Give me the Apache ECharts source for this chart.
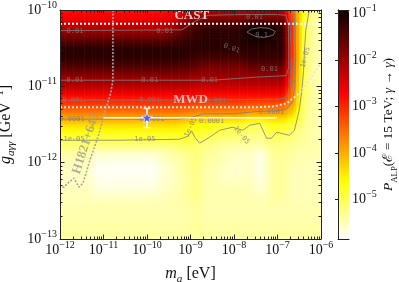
<!DOCTYPE html>
<html><head><meta charset="utf-8">
<script src="https://cdn.jsdelivr.net/npm/echarts@6/dist/echarts.min.js"></script>
<style>html,body{margin:0;padding:0;background:#fff}#c{width:399px;height:282px}</style>
</head><body><div id="c"></div>
<script>
// ---------------- data (log10 values) ----------------
// column centres: log10(m_a / eV)
const massLog = [-11.875,-11.625,-11.375,-11.125,-10.875,-10.625,-10.375,-10.125,-9.875,-9.625,-9.375,-9.125,-8.875,-8.625,-8.375,-8.125,-7.875,-7.625,-7.375,-7.125,-6.875,-6.625,-6.375,-6.125];
// sampled rows: log10(g / GeV^-1), top to bottom
const couplingLog = [-10.0,-10.125,-10.25,-10.375,-10.5,-10.625,-10.75,-10.875,-11.0,-11.125,-11.25,-11.375,-11.5,-11.625,-11.75,-11.875,-12.0,-12.125,-12.25,-12.375,-12.5,-12.625,-12.75,-12.875,-13.0];
// log10 P_ALP ; one row per couplingLog entry, one column per massLog entry
const pLog = [
[-2.85,-2.85,-2.85,-2.85,-2.85,-2.85,-2.85,-2.85,-2.85,-2.85,-2.75,-2.6,-2.4,-2.3,-2.3,-2.3,-2.3,-2.3,-2.3,-2.3,-2.3,-3.6,-4.7,-5.4],
[-2.55,-2.55,-2.55,-2.55,-2.55,-2.55,-2.55,-2.55,-2.55,-2.55,-2.4,-2.1,-1.8,-1.7,-1.7,-1.7,-1.7,-1.6,-1.6,-1.6,-1.6,-3.4,-4.9,-5.4],
[-2.1,-2.1,-2.1,-2.1,-2.1,-2.1,-2.1,-2.1,-2.1,-2.1,-1.9,-1.55,-1.3,-1.2,-1.2,-1.2,-1.2,-0.95,-0.9,-0.95,-1.2,-3.3,-5.0,-5.45],
[-1.6,-1.6,-1.6,-1.6,-1.6,-1.6,-1.6,-1.6,-1.6,-1.6,-1.45,-1.3,-1.2,-1.15,-1.15,-1.15,-1.15,-1.0,-0.95,-1.05,-1.2,-3.3,-5.0,-5.45],
[-1.15,-1.15,-1.15,-1.15,-1.15,-1.15,-1.15,-1.15,-1.15,-1.15,-1.15,-1.15,-1.15,-1.15,-1.15,-1.15,-1.15,-1.15,-1.15,-1.15,-1.15,-3.3,-5.05,-5.45],
[-1.15,-1.15,-1.15,-1.15,-1.15,-1.15,-1.15,-1.15,-1.15,-1.15,-1.15,-1.2,-1.3,-1.35,-1.35,-1.35,-1.35,-1.25,-1.25,-1.25,-1.25,-3.3,-5.05,-5.45],
[-1.45,-1.45,-1.45,-1.45,-1.45,-1.45,-1.45,-1.45,-1.45,-1.45,-1.45,-1.5,-1.6,-1.75,-1.75,-1.75,-1.75,-1.6,-1.6,-1.6,-1.6,-3.4,-5.05,-5.45],
[-1.9,-1.9,-1.9,-1.9,-1.9,-1.9,-1.9,-1.9,-1.9,-1.9,-1.9,-1.9,-2.0,-2.0,-2.0,-2.0,-2.0,-1.95,-1.95,-1.95,-1.95,-3.5,-5.1,-5.45],
[-2.2,-2.2,-2.2,-2.2,-2.2,-2.2,-2.2,-2.2,-2.2,-2.2,-2.2,-2.2,-2.3,-2.3,-2.3,-2.3,-2.3,-2.3,-2.3,-2.3,-2.3,-3.6,-5.1,-5.45],
[-2.75,-2.75,-2.75,-2.75,-2.75,-2.75,-2.75,-2.75,-2.75,-2.75,-2.75,-2.75,-2.8,-2.8,-2.8,-2.8,-2.8,-2.8,-2.8,-2.8,-2.8,-3.8,-5.15,-5.45],
[-3.2,-3.2,-3.2,-3.2,-3.2,-3.2,-3.2,-3.2,-3.2,-3.2,-3.2,-3.2,-3.3,-3.3,-3.3,-3.3,-3.3,-3.4,-3.4,-3.4,-3.4,-4.0,-5.2,-5.45],
[-3.75,-3.75,-3.75,-3.75,-3.75,-3.75,-3.75,-3.75,-3.75,-3.75,-3.75,-3.8,-3.9,-3.9,-3.9,-3.9,-3.9,-4.05,-4.05,-4.05,-4.05,-4.4,-5.25,-5.45],
[-4.3,-4.3,-4.3,-4.3,-4.3,-4.3,-4.3,-4.3,-4.3,-4.3,-4.3,-4.4,-4.6,-4.6,-4.7,-4.8,-4.8,-4.95,-5.0,-4.7,-4.75,-4.9,-5.3,-5.45],
[-4.75,-4.75,-4.75,-4.75,-4.75,-4.75,-4.75,-4.75,-4.75,-4.75,-4.75,-4.7,-4.85,-4.9,-5.0,-5.1,-5.1,-5.2,-5.25,-4.95,-5.0,-5.15,-5.35,-5.45],
[-5.1,-5.1,-5.1,-5.1,-5.1,-5.1,-5.1,-5.1,-5.1,-5.1,-5.1,-5.0,-5.1,-5.2,-5.3,-5.35,-5.35,-5.35,-5.4,-5.2,-5.25,-5.3,-5.4,-5.45],
[-5.4,-5.4,-5.4,-5.6,-5.6,-5.6,-5.6,-5.6,-5.6,-5.5,-5.4,-5.3,-5.2,-5.35,-5.4,-5.5,-5.55,-5.55,-5.7,-5.35,-5.3,-5.4,-5.45,-5.45],
[-5.5,-5.5,-5.5,-5.75,-5.75,-5.75,-5.75,-5.75,-5.75,-5.6,-5.5,-5.4,-5.2,-5.4,-5.45,-5.55,-5.6,-5.55,-5.75,-5.4,-5.35,-5.45,-5.5,-5.5],
[-5.55,-5.55,-5.55,-5.8,-5.8,-5.8,-5.8,-5.8,-5.8,-5.65,-5.55,-5.4,-5.25,-5.45,-5.5,-5.6,-5.6,-5.55,-5.75,-5.4,-5.35,-5.5,-5.5,-5.5],
[-5.55,-5.55,-5.55,-5.75,-5.75,-5.75,-5.75,-5.75,-5.75,-5.6,-5.55,-5.4,-5.25,-5.45,-5.5,-5.55,-5.55,-5.5,-5.7,-5.4,-5.35,-5.5,-5.5,-5.5],
[-5.5,-5.5,-5.5,-5.65,-5.65,-5.65,-5.65,-5.65,-5.65,-5.55,-5.5,-5.4,-5.25,-5.45,-5.45,-5.45,-5.45,-5.5,-5.6,-5.4,-5.35,-5.5,-5.5,-5.5],
[-5.5,-5.5,-5.5,-5.5,-5.5,-5.5,-5.5,-5.5,-5.5,-5.5,-5.45,-5.4,-5.3,-5.45,-5.45,-5.45,-5.45,-5.45,-5.5,-5.4,-5.4,-5.5,-5.5,-5.5],
[-5.45,-5.45,-5.45,-5.45,-5.45,-5.45,-5.45,-5.45,-5.45,-5.45,-5.45,-5.45,-5.35,-5.45,-5.45,-5.45,-5.45,-5.45,-5.45,-5.45,-5.45,-5.45,-5.45,-5.45],
[-5.45,-5.45,-5.45,-5.45,-5.45,-5.45,-5.45,-5.45,-5.45,-5.45,-5.45,-5.45,-5.35,-5.45,-5.45,-5.45,-5.45,-5.45,-5.45,-5.45,-5.45,-5.45,-5.45,-5.45],
[-5.4,-5.4,-5.4,-5.4,-5.4,-5.4,-5.4,-5.4,-5.4,-5.4,-5.4,-5.4,-5.35,-5.4,-5.4,-5.4,-5.4,-5.4,-5.4,-5.4,-5.4,-5.4,-5.4,-5.4],
[-5.4,-5.4,-5.4,-5.4,-5.4,-5.4,-5.4,-5.4,-5.4,-5.4,-5.4,-5.4,-5.4,-5.4,-5.4,-5.4,-5.4,-5.4,-5.4,-5.4,-5.4,-5.4,-5.4,-5.4]
];
// tick labels (exponents)
const massTicks = [-12,-11,-10,-9,-8,-7,-6];
const couplingTicks = [-13,-12,-11,-10];
const colorTicks = [-5,-4,-3,-2,-1];
const colorRange = [-5.85, -0.92];
// contour lines [log m, log g]
const contour01 = [[-7.70,-10.29],[-7.6,-10.25],[-7.4,-10.23],[-7.2,-10.24],[-7.05,-10.28],[-7.1,-10.33],[-7.3,-10.36],[-7.5,-10.35],[-7.70,-10.29]];
const contour001 = [[-12,-10.27],[-9.2,-10.26],[-8.9,-10.15],[-8.6,-10.07],[-7.9,-10.06],[-7.0,-10.06],[-6.8,-10.07],[-6.75,-10.2],[-6.74,-10.5],[-6.74,-10.75],[-6.8,-10.86],[-7.5,-10.88],[-8.5,-10.92],[-12,-10.92]];
const contour0001 = [[-12,-11.18],[-8.8,-11.18],[-7.0,-11.17],[-6.8,-11.15],[-6.7,-11.0],[-6.69,-10.5],[-6.72,-10.0]];
const contour00001 = [[-12,-11.43],[-9.3,-11.43],[-9.0,-11.41],[-8.7,-11.36],[-8.0,-11.36],[-7.5,-11.33],[-7.0,-11.32],[-6.8,-11.3],[-6.65,-11.2],[-6.6,-11.0],[-6.59,-10.5],[-6.62,-10.0]];
const contour1em5 = [[-12,-11.706],[-10.62,-11.706],[-9.25,-11.693],[-9.06,-11.654],[-8.97,-11.588],[-8.90,-11.667],[-8.79,-11.745],[-8.56,-11.667],[-8.33,-11.575],[-8.03,-11.536],[-7.80,-11.575],[-7.64,-11.510],[-7.41,-11.484],[-7.25,-11.680],[-7.14,-11.680],[-7.02,-11.601],[-6.73,-11.641],[-6.61,-11.575],[-6.50,-11.31],[-6.44,-11.05],[-6.40,-10.79],[-6.38,-10.53],[-6.35,-10.27],[-6.27,-10.0]];
const contourLabelText = ['0.01','0.01','0.01','0.01','0.001','0.001','0.0001','0.0001','1e-05','1e-05','0.1','0.01','0.01','0.01','0.01','0.001','0.0001','0.0001','1e-05','1e-05','0.0001','1e-05'];
const contourLabelMass = [-11.656,-9.592,-11.656,-9.936,-11.702,-9.936,-11.725,-9.890,-11.679,-10.050,-7.367,-7.528,-8.055,-8.560,-7.183,-8.422,-8.514,-7.138,-8.995,-7.826,-6.633,-6.358];
const contourLabelCoupling = [-10.281,-10.281,-10.922,-10.922,-11.183,-11.183,-11.431,-11.431,-11.693,-11.693,-10.333,-10.098,-10.503,-10.922,-10.778,-11.196,-11.458,-11.340,-11.536,-11.641,-10.791,-10.621];
const contourLabelRotate = [0,0,0,0,0,0,0,0,0,0,0,0,-20,0,0,0,0,0,65,-50,85,75];
// limits
const castLog = -10.18;
const mwdMass = [-12,-7.5,-7.069,-6.794,-6.495,-6.266,-6.0];
const mwdCoupling = [-11.275,-11.275,-11.261,-11.222,-11.092,-10.922,-10.686];
const hMass = [-10.784,-10.784,-10.830,-10.968,-11.128,-11.312,-11.472,-11.564,-11.679,-11.794,-11.908,-12];
const hCoupling = [-10.0,-10.922,-11.078,-11.340,-11.667,-11.967,-12.268,-12.320,-12.203,-12.255,-12.320,-12.320];
// best-fit point with error bars
const starMass = -10.0, starCoupling = -11.41;
const errMass = [-11.0, -7.02];
const errCoupling = [-11.29, -11.54];
// annotations
const annoText = ['CAST','MWD','H1821+643'];
const annoMass = [-8.97, -9.0, -11.404];
const annoCoupling = [-10.07, -11.18, -11.752];
const annoRotate = [0, 0, 72];

// ---------------- rendering ----------------
const P = v => Math.pow(10, v);
const E = p => Number('1e' + p);
const [vMin, vMax] = colorRange;
function hotR(v) {
  let t = (v - vMin) / (vMax - vMin); t = Math.max(0, Math.min(1, t));
  const s = 1 - t, a = 0.365079, b = 0.746032;
  const r = s < a ? 0.0416 + (1 - 0.0416) * s / a : 1;
  const g = s < a ? 0 : (s < b ? (s - a) / (b - a) : 1);
  const bl = s < b ? 0 : (s - b) / (1 - b);
  return 'rgb(' + Math.round(r * 255) + ',' + Math.round(g * 255) + ',' + Math.round(bl * 255) + ')';
}
const stops = [];
for (let k = 0; k <= 48; k++) stops.push(hotR(vMin + (vMax - vMin) * k / 48));

// cell edges: extend the first/last column to the plot borders
const colPos = [-12].concat(massLog, [-6]);
const colVal = (i, k) => pLog[i][Math.max(0, Math.min(massLog.length - 1, k - 1))];
const cells = [];
for (let i = 0; i < couplingLog.length - 1; i++)
  for (let k = 0; k < colPos.length - 1; k++)
    cells.push([k, i, (colVal(i, k) + colVal(i + 1, k)) / 2, P((colPos[k] + colPos[k + 1]) / 2), P((couplingLog[i] + couplingLog[i + 1]) / 2)]);

function renderCell(params, api) {
  const k = api.value(0), i = api.value(1);
  const tl = api.coord([P(colPos[k]), P(couplingLog[i])]);
  const br = api.coord([P(colPos[k + 1]), P(couplingLog[i + 1])]);
  const vTL = colVal(i, k), vTR = colVal(i, k + 1), vBL = colVal(i + 1, k), vBR = colVal(i + 1, k + 1);
  const W = br[0] - tl[0], H = br[1] - tl[1];
  const K = Math.max(1, Math.round(W / 2.5));
  const children = [];
  for (let s = 0; s < K; s++) {
    const f = (s + 0.5) / K;
    const top = vTL + (vTR - vTL) * f, bot = vBL + (vBR - vBL) * f;
    children.push({
      type: 'rect',
      shape: { x: tl[0] + W * s / K - 0.3, y: tl[1] - 0.3, width: W / K + 0.6, height: H + 0.6 },
      style: { fill: { type: 'linear', x: 0, y: 0, x2: 0, y2: 1, colorStops: [
        { offset: 0, color: hotR(top) }, { offset: 0.5, color: hotR((top + bot) / 2) }, { offset: 1, color: hotR(bot) }] } }
    });
  }
  return { type: 'group', children };
}

const SERIF = "'Liberation Serif', 'DejaVu Serif', serif";
const TXT = '#111';
const supFmt = e => '{b|10}{s|' + (e < 0 ? '\u2212' + (-e) : e) + '}';
const tickRich = {
  b: { fontFamily: SERIF, fontSize: 14, lineHeight: 20, color: TXT },
  s: { fontFamily: SERIF, fontSize: 10, lineHeight: 11, color: TXT, verticalAlign: 'top' }
};
const makeNameRich = fs => ({
  i: { fontFamily: SERIF, fontStyle: 'italic', fontSize: fs, lineHeight: 22, color: TXT },
  r: { fontFamily: SERIF, fontSize: fs, lineHeight: 22, color: TXT },
  sub: { fontFamily: SERIF, fontStyle: 'italic', fontSize: fs * 0.7, lineHeight: 12, color: TXT, verticalAlign: 'bottom' },
  subr: { fontFamily: SERIF, fontSize: fs * 0.65, lineHeight: 12, color: TXT, verticalAlign: 'bottom' },
  sup: { fontFamily: SERIF, fontSize: fs * 0.7, lineHeight: 12, color: TXT, verticalAlign: 'top' }
});
const minorOf = ticks => { const out = []; for (let d = 0; d < ticks.length - 1; d++) for (let k = 2; k <= 9; k++) out.push(k * E(ticks[d])); return out; };
const LINE = { color: '#222', width: 1 };

function mainAxis(type, pos, ticks, opts) {
  const minor = opts.minor;
  const vals = minor ? minorOf(ticks) : ticks.map(E);
  return Object.assign({
    type: 'log', logBase: 10, gridIndex: 0, position: pos, min: E(ticks[0]), max: E(ticks[ticks.length - 1]), z: 10,
    axisLine: { show: !minor, onZero: false, lineStyle: LINE },
    axisTick: { show: true, inside: true, length: minor ? 2.5 : 4.5, lineStyle: LINE, customValues: vals },
    axisLabel: { show: !!opts.labels, customValues: ticks.map(E), margin: opts.margin || 3,
      formatter: v => supFmt(Math.round(Math.log10(v))), rich: tickRich },
    splitLine: { show: false }, minorTick: { show: false }, minorSplitLine: { show: false }, silent: true
  }, opts.extra || {});
}

const xAxes = [
  mainAxis('x', 'bottom', massTicks, { labels: true, margin: 1, extra: {
    name: '{i|m}{sub|a}{r| [eV]}', nameLocation: 'middle', nameGap: 24, nameTextStyle: { rich: makeNameRich(16) } } }),
  mainAxis('x', 'bottom', massTicks, { minor: true }),
  mainAxis('x', 'top', massTicks, {}),
  mainAxis('x', 'top', massTicks, { minor: true }),
  { type: 'value', gridIndex: 1, position: 'bottom', min: 0, max: 1, z: 10, axisLine: { show: true, lineStyle: LINE }, axisTick: { show: false }, axisLabel: { show: false }, splitLine: { show: false } },
  { type: 'value', gridIndex: 1, position: 'top', min: 0, max: 1, z: 10, axisLine: { show: true, lineStyle: LINE }, axisTick: { show: false }, axisLabel: { show: false }, splitLine: { show: false } }
];
const yAxes = [
  mainAxis('y', 'left', couplingTicks, { labels: true, margin: 3, extra: {
    name: '{i|g}{sub|a\u03b3\u03b3}{r| [GeV}{sup|\u22121}{r|]}', nameLocation: 'middle', nameGap: 29, nameRotate: 90, nameTextStyle: { rich: makeNameRich(16) } } }),
  mainAxis('y', 'left', couplingTicks, { minor: true }),
  mainAxis('y', 'right', couplingTicks, {}),
  mainAxis('y', 'right', couplingTicks, { minor: true }),
  { type: 'value', gridIndex: 1, position: 'left', min: vMin, max: vMax, z: 10, axisLine: { show: true, lineStyle: LINE }, axisTick: { show: false }, axisLabel: { show: false }, splitLine: { show: false } },
  { type: 'value', gridIndex: 1, position: 'right', min: vMin, max: vMax, z: 10,
    axisLine: { show: true, lineStyle: LINE },
    axisTick: { show: true, inside: true, length: 3, lineStyle: LINE, customValues: colorTicks },
    axisLabel: { show: true, margin: 3, customValues: colorTicks, formatter: v => supFmt(Math.round(v)), rich: tickRich },
    splitLine: { show: false },
    name: '{i|P}{subr|ALP}{r|(\u2130 = 15 TeV; }{i|\u03b3}{r| \u2192 }{i|\u03b3}{r|)}', nameLocation: 'middle', nameGap: 28, nameRotate: 90,
    nameTextStyle: { rich: makeNameRich(13.5) } }
];

const toXY = arr => arr.map(p => [P(p[0]), P(p[1])]);
const contourStyle = { color: '#7d7d7d', width: 0.8 };
const lineSeries = (data, style, z) => ({ type: 'line', xAxisIndex: 0, yAxisIndex: 0, data, showSymbol: false, symbol: 'none', lineStyle: style, z: z || 3, silent: true, animation: false, clip: true });

const series = [
  { type: 'custom', xAxisIndex: 0, yAxisIndex: 0, data: cells, encode: { x: 3, y: 4 }, renderItem: renderCell, clip: true, z: 1, silent: true, animation: false },
  lineSeries(toXY(contour01), contourStyle),
  lineSeries(toXY(contour001), contourStyle),
  lineSeries(toXY(contour0001), contourStyle),
  lineSeries(toXY(contour00001), contourStyle),
  lineSeries(toXY(contour1em5), contourStyle),
  lineSeries([[E(-12), P(castLog)], [E(-6), P(castLog)]], { color: '#ffffff', width: 2, type: [2, 2] }, 5),
  lineSeries(mwdMass.map((m, i) => [P(m), P(mwdCoupling[i])]), { color: '#e6e6e6', width: 2, type: [2, 2] }, 5),
  lineSeries(hMass.map((m, i) => [P(m), P(hCoupling[i])]), { color: '#a6a6a6', width: 1.6, type: [2, 1.5] }, 5),
  lineSeries([[P(errMass[0]), P(starCoupling)], [P(errMass[1]), P(starCoupling)]], { color: '#ffffff', width: 1.5 }, 6),
  lineSeries([[P(starMass), P(errCoupling[0])], [P(starMass), P(errCoupling[1])]], { color: '#ffffff', width: 1.5 }, 6),
  { type: 'scatter', xAxisIndex: 0, yAxisIndex: 0, data: errCoupling.map(g => [P(starMass), P(g)]), symbol: 'rect', symbolSize: [7, 1.5], itemStyle: { color: '#fff' }, z: 6, silent: true, animation: false },
  { type: 'scatter', xAxisIndex: 0, yAxisIndex: 0, data: [[P(starMass), P(starCoupling)]],
    symbol: 'path://M50,0 L61,35 L98,35 L68,57 L79,91 L50,70 L21,91 L32,57 L2,35 L39,35 Z', symbolSize: 11,
    itemStyle: { color: '#2b3bff', borderColor: '#ffffff', borderWidth: 0.8 }, z: 7, silent: true, animation: false },
  { type: 'scatter', xAxisIndex: 0, yAxisIndex: 0, symbolSize: 1, itemStyle: { color: 'rgba(0,0,0,0)' }, z: 8, silent: true, animation: false,
    data: annoText.map((t, i) => ({ value: [P(annoMass[i]), P(annoCoupling[i])],
      label: { show: true, position: 'inside', formatter: t, rotate: annoRotate[i],
        fontFamily: SERIF, fontWeight: 'bold', fontSize: 13,
        color: i === 0 ? '#ffffff' : (i === 1 ? 'rgba(245,235,235,0.9)' : '#9a9a9a') } })) },
  { type: 'scatter', xAxisIndex: 0, yAxisIndex: 0, symbolSize: 1, itemStyle: { color: 'rgba(0,0,0,0)' }, z: 4, silent: true, animation: false,
    data: contourLabelText.map((t, i) => ({ value: [P(contourLabelMass[i]), P(contourLabelCoupling[i])],
      label: { show: true, position: 'inside', formatter: t, rotate: contourLabelRotate[i],
        fontFamily: "'DejaVu Sans Mono', monospace", fontSize: 7, color: '#7d7d7d' } })) }
];

const chart = echarts.init(document.getElementById('c'), null, { renderer: 'canvas' });
chart.setOption({
  animation: false,
  backgroundColor: '#ffffff',
  grid: [
    { left: 60, top: 10, width: 261, height: 229, outerBoundsMode: 'none', containLabel: false, show: false },
    { left: 338, top: 10, width: 11, height: 229, outerBoundsMode: 'none', containLabel: false, show: false }
  ],
  xAxis: xAxes,
  yAxis: yAxes,
  visualMap: {
    type: 'continuous', min: vMin, max: vMax, dimension: 2, seriesIndex: 0,
    orient: 'vertical', left: 338, top: 10, itemWidth: 11, itemHeight: 229, padding: 0,
    calculable: false, showLabel: false, text: null, hoverLink: false, realtime: false,
    inRange: { color: stops }, z: 4
  },
  series
});
</script></body></html>
